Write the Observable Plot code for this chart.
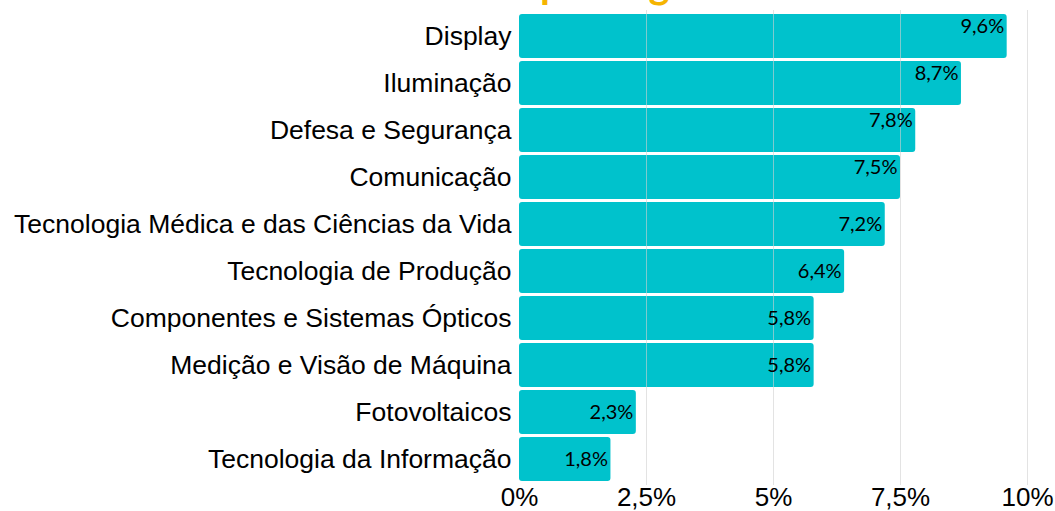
<!DOCTYPE html>
<html>
<head>
<meta charset="utf-8">
<script src="https://cdn.jsdelivr.net/npm/d3@7"></script>
<script src="https://cdn.jsdelivr.net/npm/@observablehq/plot@0.6"></script>
<style>
  html, body { margin: 0; padding: 0; background: #fff; overflow: hidden; }
  #wrap { position: relative; width: 1055px; height: 511px; overflow: hidden; }
  #title { position: absolute; left: 400px; top: -37px; white-space: nowrap; line-height: 40px;
           font-family: "Lato", sans-serif; font-weight: bold; font-size: 40px; color: #F5B400; margin: 0; }
  #chart { position: absolute; left: 0; top: 0; }
</style>
</head>
<body>
<div id="wrap">
  <div id="chart"></div>
  <div id="title"><span id="pre">Crescimento </span><span>por segmento</span></div>
</div>
<script>
const categories = [
  "Display",
  "Iluminação",
  "Defesa e Segurança",
  "Comunicação",
  "Tecnologia Médica e das Ciências da Vida",
  "Tecnologia de Produção",
  "Componentes e Sistemas Ópticos",
  "Medição e Visão de Máquina",
  "Fotovoltaicos",
  "Tecnologia da Informação"
];
const values = [9.6, 8.7, 7.8, 7.5, 7.2, 6.4, 5.8, 5.8, 2.3, 1.8];
const xTicks = [0, 2.5, 5, 7.5, 10];
const xTickLabels = ["0%", "2,5%", "5%", "7,5%", "10%"];

const data = categories.map((c, i) => ({category: c, value: values[i]}));
const fmt = v => String(v.toFixed(1)).replace(".", ",") + "%";

const chart = Plot.plot({
  width: 1055,
  height: 511,
  marginLeft: 519,
  marginRight: 28,
  marginTop: 10,
  marginBottom: 26,
  style: {fontFamily: '"Liberation Sans", Arial, sans-serif', fontSize: "26px", color: "#000", background: "transparent", overflow: "visible"},
  x: {domain: [0, 10], ticks: xTicks, tickFormat: d => xTickLabels[xTicks.indexOf(d)], label: null},
  y: {domain: categories, padding: 0.07, label: null},
  marks: [
    Plot.barX(data, {y: "category", x: "value", fill: "#00C2CC", rx: 3}),
    Plot.ruleX(xTicks.slice(1), {stroke: "#d0d0d0", strokeWidth: 1, strokeOpacity: 0.6}),
    Plot.text(data.filter(d => d.value >= 7.5), {
      y: "category", x: "value", text: d => fmt(d.value),
      textAnchor: "end", dx: -3, dy: -10,
      fontFamily: "Lato, sans-serif", fontSize: 20, fill: "#000"
    }),
    Plot.text(data.filter(d => d.value < 7.5), {
      y: "category", x: "value", text: d => fmt(d.value),
      textAnchor: "end", dx: -3,
      fontFamily: "Lato, sans-serif", fontSize: 20, fill: "#000"
    }),
    Plot.axisY({tickSize: 0, tickPadding: 8, fontSize: 26.5, label: null}),
    Plot.axisX({ticks: xTicks, tickFormat: d => xTickLabels[xTicks.indexOf(d)], tickSize: 0, tickPadding: 2, fontSize: 26, label: null})
  ]
});
document.getElementById("chart").appendChild(chart);
const pre = document.getElementById("pre");
document.getElementById("title").style.left = (540 - pre.getBoundingClientRect().width) + "px";
</script>
</body>
</html>
